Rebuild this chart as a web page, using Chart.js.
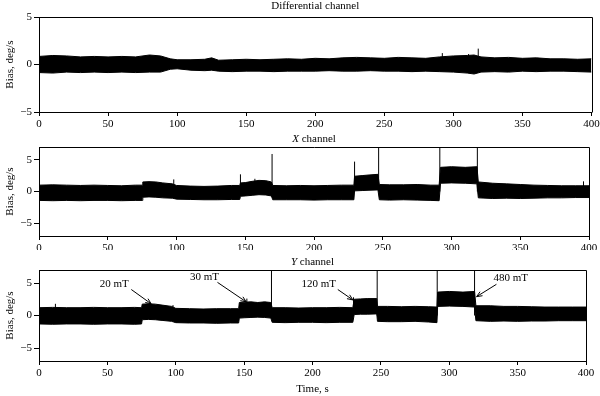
<!DOCTYPE html>
<html>
<head>
<meta charset="utf-8">
<script src="https://cdn.jsdelivr.net/npm/chart.js@4/dist/chart.umd.min.js"></script>
<style>
  body { margin: 0; background: #fff; }
  #wrap { position: relative; width: 600px; height: 396px; }
  canvas { position: absolute; left: 0; }
</style>
</head>
<body>
<div id="wrap">
  <canvas id="diffChart" width="600" height="130" style="top:0px"></canvas>
  <canvas id="xChart" width="600" height="120" style="top:130px"></canvas>
  <canvas id="yChart" width="600" height="146" style="top:250px"></canvas>
</div>
<script>
// Tick labels
const xTicks = [0, 50, 100, 150, 200, 250, 300, 350, 400];
const yTicks = [-5, 0, 5];

// Differential channel: envelope of the noise band (deg/s)
const diffTime  = [0, 10, 20, 30, 40, 50, 60, 70, 80, 88, 95, 100, 110, 120, 125, 130, 140, 150, 160, 170, 180, 190, 200, 210, 220, 230, 240, 250, 260, 270, 280, 290, 300, 310, 315, 320, 330, 340, 350, 360, 370, 380, 390, 400];
const diffUpper = [0.85, 0.95, 0.9, 0.8, 0.85, 0.8, 0.85, 0.8, 1.0, 0.9, 0.6, 0.5, 0.5, 0.55, 0.7, 0.45, 0.5, 0.55, 0.5, 0.55, 0.6, 0.55, 0.65, 0.6, 0.7, 0.75, 0.7, 0.65, 0.75, 0.7, 0.65, 0.8, 0.9, 0.95, 1.0, 0.8, 0.7, 0.75, 0.65, 0.7, 0.6, 0.6, 0.55, 0.6];
const diffLower = [-0.85, -0.9, -0.8, -0.85, -0.8, -0.85, -0.8, -0.85, -0.8, -0.8, -0.5, -0.45, -0.6, -0.65, -0.6, -0.7, -0.75, -0.7, -0.7, -0.75, -0.7, -0.7, -0.7, -0.65, -0.7, -0.7, -0.65, -0.7, -0.7, -0.75, -0.7, -0.75, -0.8, -0.9, -1.0, -0.8, -0.75, -0.8, -0.7, -0.75, -0.7, -0.7, -0.75, -0.8];
const diffSpikeTime = [292, 311, 318];
const diffSpikeTop  = [1.2, 1.1, 1.67];

// X channel
const xTime  = [0, 10, 20, 30, 40, 50, 60, 70, 75, 75.5, 80, 85, 90, 97, 100, 110, 120, 130, 140, 146, 146.5, 150, 155, 160, 165, 169, 170, 180, 190, 200, 210, 220, 229, 229.5, 235, 240, 246.5, 247.5, 255, 265, 275, 285, 291, 292, 300, 310, 318.5, 319.5, 330, 340, 350, 360, 370, 380, 390, 400];
const xUpper = [1.0, 1.05, 1.0, 0.95, 1.0, 0.95, 0.9, 1.0, 1.0, 1.5, 1.55, 1.5, 1.35, 1.2, 0.95, 0.85, 0.8, 0.85, 0.95, 0.95, 1.35, 1.4, 1.6, 1.75, 1.7, 1.5, 0.95, 0.9, 0.95, 0.9, 0.95, 1.0, 1.0, 2.4, 2.5, 2.6, 2.7, 1.1, 1.05, 1.05, 1.1, 1.0, 1.0, 3.8, 3.9, 3.8, 3.9, 1.5, 1.3, 1.2, 1.1, 1.0, 0.95, 0.9, 0.9, 0.9];
const xLower = [-1.4, -1.45, -1.4, -1.45, -1.4, -1.4, -1.45, -1.4, -1.4, -0.9, -0.85, -0.9, -1.0, -1.05, -1.2, -1.25, -1.3, -1.3, -1.25, -1.25, -0.75, -0.7, -0.6, -0.5, -0.55, -0.7, -1.3, -1.3, -1.3, -1.35, -1.3, -1.3, -1.3, 0.1, 0.15, 0.2, 0.25, -1.3, -1.35, -1.3, -1.35, -1.4, -1.45, 1.3, 1.35, 1.3, 1.2, -1.0, -1.1, -1.05, -1.1, -1.05, -1.0, -1.0, -0.95, -0.95];
const xSpikeTime = [98, 146.5, 157, 169.5, 229.5, 247, 291.5, 318.8, 396];
const xSpikeTop  = [1.9, 2.7, 2.0, 5.9, 4.7, 7, 7, 7, 1.6];

// Y channel
const yTime  = [0, 10, 20, 30, 40, 50, 60, 70, 75, 75.5, 80, 85, 90, 97, 100, 110, 120, 130, 140, 146, 146.5, 150, 155, 160, 165, 169.5, 170.5, 180, 190, 200, 210, 220, 229.5, 230.5, 235, 240, 247, 247.5, 255, 265, 275, 285, 291, 291.5, 300, 310, 318.5, 319.5, 330, 340, 350, 360, 370, 380, 390, 400];
const yUpper = [1.2, 1.25, 1.2, 1.2, 1.25, 1.2, 1.2, 1.25, 1.2, 1.75, 1.8, 1.75, 1.6, 1.4, 1.1, 1.05, 1.0, 1.05, 1.05, 1.05, 2.0, 2.05, 2.1, 2.0, 2.1, 2.0, 1.2, 1.2, 1.15, 1.2, 1.2, 1.25, 1.2, 2.5, 2.55, 2.6, 2.6, 1.4, 1.4, 1.35, 1.4, 1.35, 1.3, 3.6, 3.7, 3.6, 3.7, 1.5, 1.5, 1.4, 1.4, 1.35, 1.3, 1.3, 1.3, 1.3];
const yLower = [-1.3, -1.35, -1.3, -1.3, -1.35, -1.3, -1.3, -1.35, -1.3, -0.65, -0.6, -0.65, -0.75, -0.9, -1.1, -1.15, -1.15, -1.2, -1.15, -1.15, -0.4, -0.35, -0.3, -0.25, -0.3, -0.4, -1.05, -1.1, -1.05, -1.05, -1.1, -1.05, -1.05, 0.15, 0.2, 0.2, 0.25, -0.9, -0.95, -0.95, -0.9, -1.0, -1.1, 1.4, 1.45, 1.4, 1.3, -0.8, -0.9, -0.85, -0.9, -0.85, -0.85, -0.8, -0.8, -0.8];
const ySpikeTime = [12, 98, 152, 170, 230, 247.3, 291.2, 318.5];
const ySpikeTop  = [1.8, 1.6, 2.6, 7, 2.8, 7, 7, 7];

// Field labels on the Y channel
const fieldLabels = ['20 mT', '30 mT', '120 mT', '480 mT'];

const SERIF = '"Liberation Serif", "DejaVu Serif", serif';

// where the field labels and their arrows go (data units)
const notePlaces = [
  { tx: 55, ty: 4.8, from: [67.5, 4.0], to: [82, 1.8] },
  { tx: 121, ty: 5.9, from: [130.5, 5.1], to: [151.5, 2.1] },
  { tx: 204.5, ty: 4.9, from: [218.5, 4.0], to: [229.5, 2.4] },
  { tx: 345, ty: 5.7, from: [334.5, 4.8], to: [320, 2.9] }
];

function toPoints(times, values) {
  return times.map((t, i) => ({ x: t, y: values[i] }));
}

function spikePoints(times, tops) {
  const pts = [];
  times.forEach((t, i) => {
    pts.push({ x: t, y: 0 }, { x: t, y: tops[i] }, { x: t, y: null });
  });
  return pts;
}

// Frame, panel title and (optional) annotations
const panelDecor = {
  id: 'panelDecor',
  afterDraw(chart, args, opts) {
    const { ctx, chartArea: a } = chart;
    ctx.save();
    ctx.strokeStyle = '#000';
    ctx.lineWidth = 1;
    ctx.beginPath();
    ctx.moveTo(Math.round(a.left) + 0.5, Math.round(a.top) + 0.5);
    ctx.lineTo(Math.round(a.right) + 0.5, Math.round(a.top) + 0.5);
    ctx.lineTo(Math.round(a.right) + 0.5, Math.round(a.bottom) + 0.5);
    ctx.stroke();

    // title, with an italic channel letter
    ctx.fillStyle = '#000';
    ctx.textBaseline = 'middle';
    ctx.textAlign = 'left';
    const italicFont = 'italic 11px ' + SERIF;
    const plainFont = '11px ' + SERIF;
    ctx.font = italicFont;
    const w1 = ctx.measureText(opts.italic).width;
    ctx.font = plainFont;
    const w2 = ctx.measureText(opts.plain).width;
    let x = (a.left + a.right) / 2 - (w1 + w2) / 2;
    ctx.font = italicFont;
    ctx.fillText(opts.italic, x, opts.titleY);
    ctx.font = plainFont;
    ctx.fillText(opts.plain, x + w1, opts.titleY);

    if (opts.notes) {
      const xs = chart.scales.x, ys = chart.scales.y;
      ctx.textAlign = 'center';
      opts.notes.forEach((n, i) => {
        ctx.fillText(fieldLabels[i], xs.getPixelForValue(n.tx), ys.getPixelForValue(n.ty));
        const x0 = xs.getPixelForValue(n.from[0]), y0 = ys.getPixelForValue(n.from[1]);
        const x1 = xs.getPixelForValue(n.to[0]), y1 = ys.getPixelForValue(n.to[1]);
        const ang = Math.atan2(y1 - y0, x1 - x0);
        ctx.beginPath();
        ctx.moveTo(x0, y0);
        ctx.lineTo(x1, y1);
        ctx.moveTo(x1 - 6 * Math.cos(ang - 0.4), y1 - 6 * Math.sin(ang - 0.4));
        ctx.lineTo(x1, y1);
        ctx.lineTo(x1 - 6 * Math.cos(ang + 0.4), y1 - 6 * Math.sin(ang + 0.4));
        ctx.stroke();
      });
    }
    ctx.restore();
  }
};

function makeChart(id, cfg) {
  const ctx = document.getElementById(id).getContext('2d');
  return new Chart(ctx, {
    type: 'line',
    data: {
      datasets: [{
        data: toPoints(cfg.time, cfg.upper),
        borderColor: '#000',
        backgroundColor: '#000',
        borderWidth: 1,
        pointRadius: 0,
        tension: 0,
        fill: '+1'
      }, {
        data: toPoints(cfg.time, cfg.lower),
        borderColor: '#000',
        borderWidth: 1,
        pointRadius: 0,
        tension: 0,
        fill: false
      }, {
        data: spikePoints(cfg.spikeTime, cfg.spikeTop),
        borderColor: '#000',
        borderWidth: 1,
        pointRadius: 0,
        spanGaps: false,
        fill: false
      }]
    },
    options: {
      responsive: false,
      animation: false,
      devicePixelRatio: 1,
      layout: { padding: { left: 0, right: cfg.padRight, top: cfg.padTop, bottom: 0 } },
      plugins: {
        legend: { display: false },
        tooltip: { enabled: false },
        panelDecor: { italic: cfg.italic, plain: cfg.plain, titleY: cfg.titleY, notes: cfg.notes }
      },
      scales: {
        x: {
          type: 'linear',
          min: 0,
          max: 400,
          afterBuildTicks: axis => { axis.ticks = xTicks.map(v => ({ value: v })); },
          afterFit: axis => { axis.height = cfg.xHeight; axis.paddingLeft = 0; axis.paddingRight = 0; },
          ticks: { color: '#000', font: { family: SERIF, size: 11 }, padding: 2, maxRotation: 0 },
          grid: { drawOnChartArea: false, drawTicks: true, tickLength: 4, color: '#000' },
          border: { display: true, color: '#000', width: 1 },
          title: {
            display: !!cfg.xTitle,
            text: cfg.xTitle || '',
            color: '#000',
            font: { family: SERIF, size: 11 },
            padding: 0
          }
        },
        y: {
          min: cfg.yMin,
          max: cfg.yMax,
          afterBuildTicks: axis => { axis.ticks = yTicks.map(v => ({ value: v })); },
          afterFit: axis => { axis.width = 39; axis.paddingTop = 0; axis.paddingBottom = 0; },
          ticks: {
            color: '#000',
            font: { family: SERIF, size: 11 },
            padding: 2,
            callback: v => (v < 0 ? '\u2212' + Math.abs(v) : String(v))
          },
          grid: { drawOnChartArea: false, drawTicks: true, tickLength: 5, color: '#000' },
          border: { display: true, color: '#000', width: 1 },
          title: {
            display: true,
            text: 'Bias, deg/s',
            color: '#000',
            font: { family: SERIF, size: 11 },
            padding: { top: 4, bottom: 0 }
          }
        }
      }
    },
    plugins: [panelDecor]
  });
}

makeChart('diffChart', {
  time: diffTime, upper: diffUpper, lower: diffLower,
  spikeTime: diffSpikeTime, spikeTop: diffSpikeTop,
  yMin: -5, yMax: 5, padTop: 17, padRight: 8.5, xHeight: 18,
  italic: '', plain: 'Differential channel', titleY: 6
});

makeChart('xChart', {
  time: xTime, upper: xUpper, lower: xLower,
  spikeTime: xSpikeTime, spikeTop: xSpikeTop,
  yMin: -7, yMax: 7, padTop: 17, padRight: 11, xHeight: 14,
  italic: 'X', plain: ' channel', titleY: 9.5
});

makeChart('yChart', {
  time: yTime, upper: yUpper, lower: yLower,
  spikeTime: ySpikeTime, spikeTop: ySpikeTop,
  yMin: -7, yMax: 7, padTop: 20, padRight: 14, xHeight: 35,
  italic: 'Y', plain: ' channel', titleY: 12.5,
  xTitle: 'Time, s', notes: notePlaces
});
</script>
</body>
</html>
